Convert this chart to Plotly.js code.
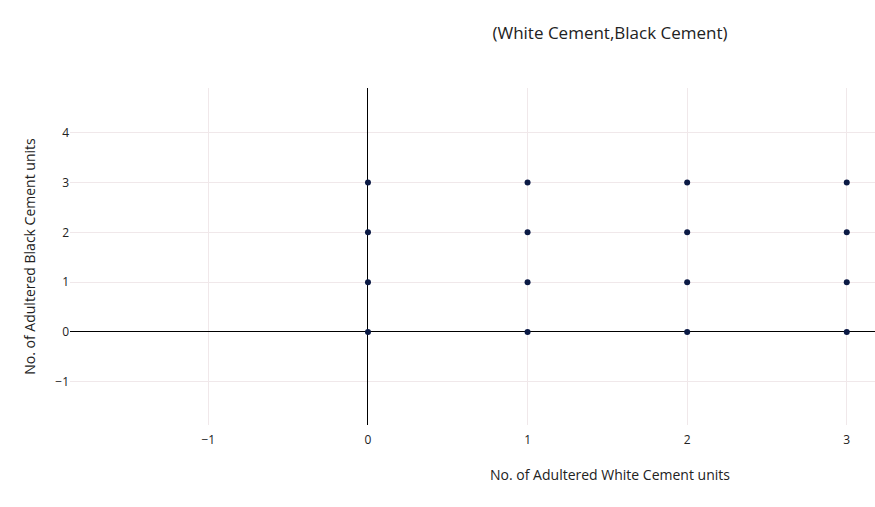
<!DOCTYPE html>
<html>
<head>
<meta charset="utf-8">
<script src="https://cdn.plot.ly/plotly-3.0.1.min.js"></script>
<style>
html,body{margin:0;padding:0;overflow:hidden;background:#fff;width:875px;height:507px;}
#chart{width:1220px;height:507px;}
</style>
</head>
<body>
<div id="chart"></div>
<script>
const whiteUnits = [0,0,0,0, 1,1,1,1, 2,2,2,2, 3,3,3,3];
const blackUnits = [0,1,2,3, 0,1,2,3, 0,1,2,3, 0,1,2,3];
const xTickVals = [-1, 0, 1, 2, 3];
const yTickVals = [-1, 0, 1, 2, 3, 4];
const titleText = "(White Cement,Black Cement)";
const xTitle = "No. of Adultered White Cement units";
const yTitle = "No. of Adultered Black Cement units";

const trace = {
  x: whiteUnits,
  y: blackUnits,
  mode: "markers",
  type: "scatter",
  marker: {color: "#0b1a45", size: 6},
  hoverinfo: "x+y"
};

const layout = {
  width: 1220,
  height: 507,
  margin: {l: 70, r: 70, t: 88, b: 82},
  paper_bgcolor: "#ffffff",
  plot_bgcolor: "#ffffff",
  showlegend: false,
  font: {family: "Open Sans, sans-serif", color: "#222"},
  title: {text: titleText, font: {size: 17, color: "#222"}, x: 0.5, xanchor: "center", y: 1 - 33/507, yanchor: "middle"},
  xaxis: {
    range: [-1.867, 4.9],
    tickvals: xTickVals,
    ticks: "outside", ticklen: 4, tickcolor: "rgba(0,0,0,0)",
    title: {text: xTitle, font: {size: 14, color: "#222"}, standoff: 22},
    tickfont: {size: 12, color: "#222"},
    gridcolor: "#f0e8ea",
    zeroline: true, zerolinecolor: "#000", zerolinewidth: 1,
    showline: false
  },
  yaxis: {
    range: [-1.87, 4.9],
    tickvals: yTickVals,
    title: {text: yTitle, font: {size: 14, color: "#222"}, standoff: 16},
    tickfont: {size: 12, color: "#222"},
    gridcolor: "#f0e8ea",
    zeroline: true, zerolinecolor: "#000", zerolinewidth: 1,
    showline: false
  }
};

Plotly.newPlot("chart", [trace], layout, {displayModeBar: false, staticPlot: true});
</script>
</body>
</html>
